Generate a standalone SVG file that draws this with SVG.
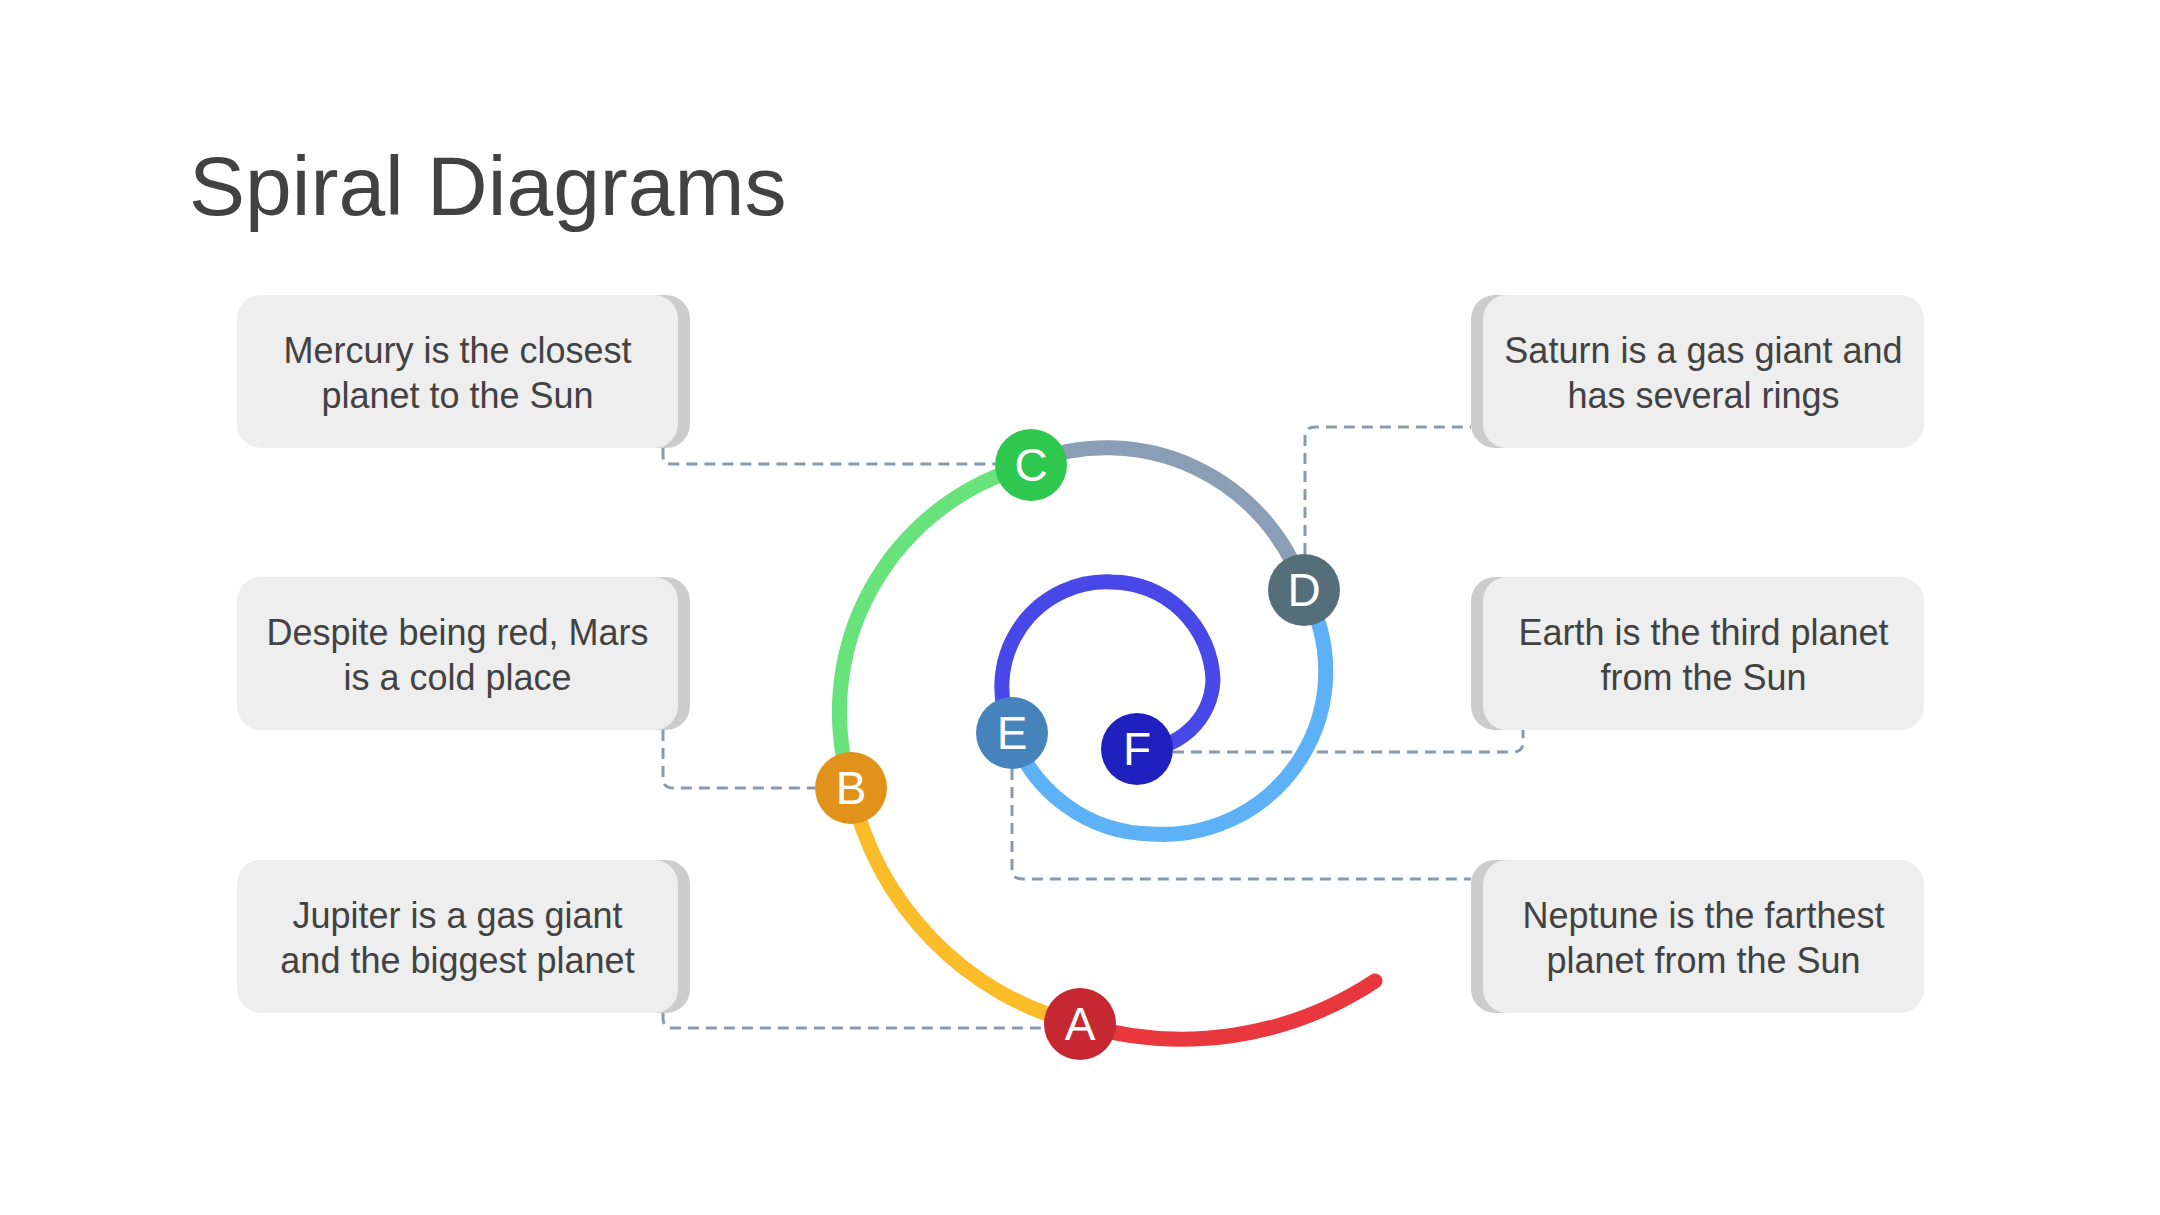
<svg xmlns="http://www.w3.org/2000/svg" width="2160" height="1215" viewBox="0 0 2160 1215">
<style>
.title{font-family:"Liberation Sans",Arial,sans-serif;font-size:84px;fill:#424242}
.txt{font-family:"Liberation Sans",Arial,sans-serif;font-size:36px;fill:#424242;text-anchor:middle}
.lbl{font-family:"Liberation Sans",Arial,sans-serif;font-size:46px;fill:#ffffff;text-anchor:middle}
.face{fill:#eeeeee}
.shadow{fill:#cccccc}
.conn{fill:none;stroke:#8a9aab;stroke-width:3;stroke-dasharray:11 7}
.seg{fill:none;stroke-width:15;stroke-linecap:round}
</style>
<rect width="2160" height="1215" fill="#ffffff"/>
<text class="title" x="189" y="215">Spiral Diagrams</text>

<g id="connectors">
<path class="conn" d="M663,448 L663,456 Q663,464 671,464 L995,464"/>
<path class="conn" d="M663,730 L663,778 Q663,788 673,788 L815,788"/>
<path class="conn" d="M663,1013 L663,1018 Q663,1028 673,1028 L1044,1028"/>
<path class="conn" d="M1305,554 L1305,437 Q1305,427 1315,427 L1471,427"/>
<path class="conn" d="M1173,752 L1513,752 Q1523,752 1523,742 L1523,730"/>
<path class="conn" d="M1012,769 L1012,869 Q1012,879 1022,879 L1471,879"/>
</g>

<g id="spiral">
<path class="seg" stroke="#e8383d" d="M1375,981 A350,350 0 0 1 1080,1024"/>
<path class="seg" stroke="#fbbc2a" d="M1080,1024 A310,310 0 0 1 851,788"/>
<path class="seg" stroke="#68e37c" d="M851,788 A255,255 0 0 1 1031,465"/>
<path class="seg" stroke="#8a9fb5" d="M1031,462 A208,208 0 0 1 1304,590"/>
<path class="seg" stroke="#5db2f7" d="M1304,590 A163,163 0 0 1 1152,834 A150,150 0 0 1 1012,732"/>
<path class="seg" stroke="#4848e8" d="M1012,732 A105,105 0 0 1 1112,582 A102,102 0 0 1 1213,680 A72,72 0 0 1 1137,749"/>
</g>

<g id="node-a"><circle cx="1080" cy="1024" r="36" fill="#c62832"/><text class="lbl" x="1080" y="1040">A</text></g>
<g id="node-b"><circle cx="851" cy="788" r="36" fill="#e0921a"/><text class="lbl" x="851" y="804">B</text></g>
<g id="node-c"><circle cx="1031" cy="465" r="36" fill="#2dc84d"/><text class="lbl" x="1031" y="481">C</text></g>
<g id="node-d"><circle cx="1304" cy="590" r="36" fill="#546e7a"/><text class="lbl" x="1304" y="606">D</text></g>
<g id="node-e"><circle cx="1012" cy="733" r="36" fill="#4683bd"/><text class="lbl" x="1012" y="749">E</text></g>
<g id="node-f"><circle cx="1137" cy="749" r="36" fill="#2020bf"/><text class="lbl" x="1137" y="765">F</text></g>

<g id="box-mercury">
<rect class="shadow" x="249" y="295" width="441" height="153" rx="24"/>
<rect class="face" x="237" y="295" width="441" height="153" rx="24"/>
<text class="txt" x="457.5" y="363">Mercury is the closest</text>
<text class="txt" x="457.5" y="408">planet to the Sun</text>
</g>
<g id="box-mars">
<rect class="shadow" x="249" y="577" width="441" height="153" rx="24"/>
<rect class="face" x="237" y="577" width="441" height="153" rx="24"/>
<text class="txt" x="457.5" y="645">Despite being red, Mars</text>
<text class="txt" x="457.5" y="690">is a cold place</text>
</g>
<g id="box-jupiter">
<rect class="shadow" x="249" y="860" width="441" height="153" rx="24"/>
<rect class="face" x="237" y="860" width="441" height="153" rx="24"/>
<text class="txt" x="457.5" y="928">Jupiter is a gas giant</text>
<text class="txt" x="457.5" y="973">and the biggest planet</text>
</g>
<g id="box-saturn">
<rect class="shadow" x="1471" y="295" width="441" height="153" rx="24"/>
<rect class="face" x="1483" y="295" width="441" height="153" rx="24"/>
<text class="txt" x="1703.5" y="363">Saturn is a gas giant and</text>
<text class="txt" x="1703.5" y="408">has several rings</text>
</g>
<g id="box-earth">
<rect class="shadow" x="1471" y="577" width="441" height="153" rx="24"/>
<rect class="face" x="1483" y="577" width="441" height="153" rx="24"/>
<text class="txt" x="1703.5" y="645">Earth is the third planet</text>
<text class="txt" x="1703.5" y="690">from the Sun</text>
</g>
<g id="box-neptune">
<rect class="shadow" x="1471" y="860" width="441" height="153" rx="24"/>
<rect class="face" x="1483" y="860" width="441" height="153" rx="24"/>
<text class="txt" x="1703.5" y="928">Neptune is the farthest</text>
<text class="txt" x="1703.5" y="973">planet from the Sun</text>
</g>
</svg>
